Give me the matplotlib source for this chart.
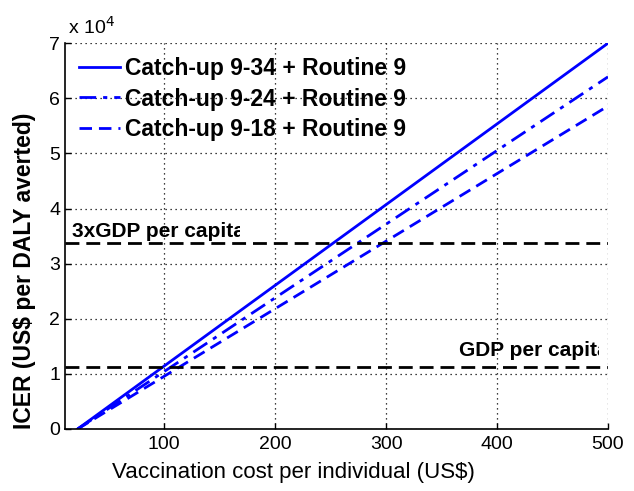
import numpy as np
import matplotlib.pyplot as plt
from matplotlib.patches import Rectangle

plt.rcParams['font.family'] = ['Liberation Sans', 'DejaVu Sans']

# values (US$ per DALY averted)
cost = [22, 500]
icer_934 = [0, 70000]
icer_924 = [0, 63900]
icer_918 = [0, 58600]
series_labels = ["Catch-up 9-34 + Routine 9",
                 "Catch-up 9-24 + Routine 9",
                 "Catch-up 9-18 + Routine 9"]
gdp = 11250
gdp3 = 33750
x_ticks = [100, 200, 300, 400, 500]
y_ticks = [0, 1, 2, 3, 4, 5, 6, 7]

fig = plt.figure(figsize=(6.34, 4.91), dpi=100)
ax = fig.add_axes([0.1025, 0.1263, 0.8565, 0.7857])

blue = '#0000ff'
scale = 1e4
ax.plot(cost, np.array(icer_934) / scale, color=blue, lw=2, ls='-', label=series_labels[0])
ax.plot(cost, np.array(icer_924) / scale, color=blue, lw=2, ls=(0, (6, 2.5, 1.5, 2.5)), label=series_labels[1])
ax.plot(cost, np.array(icer_918) / scale, color=blue, lw=2, ls=(0, (4.5, 2.5)), label=series_labels[2])

ax.axhline(gdp3 / scale, color='black', lw=2, ls=(0, (5, 2.5)))
ax.axhline(gdp / scale, color='black', lw=2, ls=(0, (5, 2.5)))

# the reference cuts the last letter of both labels
t1 = ax.text(17, 3.58, "3xGDP per capita", fontsize=15, fontweight='bold',
             va='center', ha='left', clip_on=True)
t1.set_clip_path(Rectangle((10.6, 0), 158, 7, transform=ax.transData))
t2 = ax.text(366, 1.42, "GDP per capita", fontsize=15, fontweight='bold',
             va='center', ha='left', clip_on=True)
t2.set_clip_path(Rectangle((10.6, 0), 481, 7, transform=ax.transData))

ax.set_xlim(10.6, 500)
ax.set_ylim(0, 7)
ax.set_xticks(x_ticks)
ax.set_yticks(y_ticks)
ax.tick_params(direction='in', labelsize=14, length=4, width=1)
ax.tick_params(axis='x', pad=5)
ax.grid(True, ls=(0, (1, 3)), color='black', lw=0.9)
for s in ['top', 'right']:
    ax.spines[s].set_visible(False)
for s in ['left', 'bottom']:
    ax.spines[s].set_linewidth(1.2)

ax.set_xlabel("Vaccination cost per individual (US$)", fontsize=16)
ax.xaxis.set_label_coords(0.42, -0.085)
ax.set_ylabel("ICER (US$ per DALY averted)", fontsize=16.5, fontweight='bold')
ax.yaxis.set_label_coords(-0.053, 0.41)
fig.text(0.107, 0.945, r"x 10$^4$", fontsize=14, ha='left', va='center')

leg = ax.legend(loc='upper left', frameon=False, fontsize=16.5, handlelength=1.8,
                handletextpad=0.2, labelspacing=0.33, borderaxespad=0.2,
                bbox_to_anchor=(0.0, 1.0))
for txt in leg.get_texts():
    txt.set_fontweight('bold')

fig.savefig("out.png", dpi=100)
